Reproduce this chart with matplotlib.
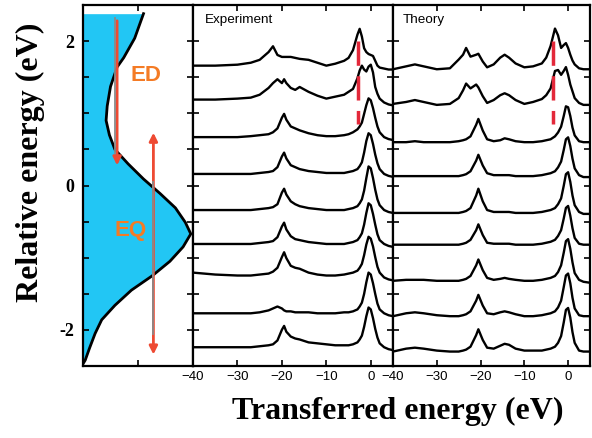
import numpy as np
import matplotlib
matplotlib.use('Agg')
import matplotlib.pyplot as plt

# left panel: density curve vs relative energy
dos_energy = [2.38, 2.04, 1.77, 1.64, 1.37, 1.10, 0.90, 0.70, 0.50, 0.30, 0.09, -0.11, -0.31,
              -0.51, -0.67, -0.85, -1.05, -1.25, -1.45, -1.66, -1.86, -2.05, -2.25, -2.42, -2.47]
dos_value = [0.55, 0.47, 0.37, 0.31, 0.25, 0.22, 0.21, 0.24, 0.29, 0.41, 0.55, 0.70, 0.84,
             0.93, 0.98, 0.91, 0.79, 0.63, 0.44, 0.29, 0.17, 0.11, 0.06, 0.02, 0.0]

# experiment spectra (intensity in arb. units, stacked at their offsets in eV)
exp_x = [-40, -35, -30, -27, -25, -23, -22, -21, -20, -19.5, -19, -18, -17, -16, -14, -12, -10,
         -8, -6, -5, -4, -3, -2.5, -2, -1.5, -1, -0.5, 0, 0.5, 1, 1.5, 2, 3, 4, 5]
exp_offsets = [1.66, 1.19, 0.67, 0.16, -0.34, -0.81, -1.22, -1.77, -2.24]
exp_spectra = [
    [0, 0, 1, 3, 6, 14, 20, 11, 9, 9, 9, 9, 8, 7, 6, 3, 0, 2, 5, 8, 16, 32, 38, 30, 18, 14, 12, 11, 10, 5, 0, -2, -3, -4, -4],
    [0, 0, 1, 2, 5, 12, 17, 21, 17, 21, 17, 12, 10, 13, 8, 4, 1, 3, 5, 8, 11, 22, 30, 35, 31, 29, 34, 36, 28, 13, 6, 1, -3, -5, -6],
    [0, 0, 0, 1, 2, 3, 5, 9, 20, 24, 18, 11, 9, 7, 4, 2, 1, 1, 2, 3, 5, 8, 11, 15, 24, 33, 40, 38, 30, 20, 11, 5, 0, -2, -3],
    [0, 0, 0, 0, 1, 2, 3, 7, 18, 22, 16, 9, 7, 5, 3, 2, 1, 1, 1, 2, 3, 5, 8, 12, 22, 34, 42, 40, 31, 20, 11, 5, 0, -2, -3],
    [0, 0, 0, 0, 1, 2, 3, 6, 18, 22, 16, 9, 6, 4, 2, 1, 0, 0, 0, 1, 2, 4, 7, 11, 20, 33, 45, 43, 33, 21, 11, 5, 0, -2, -3],
    [0, 0, 0, 0, 1, 2, 3, 7, 18, 22, 15, 8, 5, 4, 2, 1, 0, 0, 0, 1, 2, 4, 7, 11, 20, 32, 42, 40, 31, 20, 10, 4, 0, -2, -3],
    [1, -1, -2, -2, -1, 0, 2, 6, 17, 22, 16, 8, 6, 5, 1, -1, -2, -2, -1, 0, 1, 3, 6, 10, 19, 30, 38, 36, 28, 17, 7, 1, -4, -6, -7],
    [0, 0, 0, 0, 1, 3, 5, 7, 5, 3, 2, 2, 1, 1, 1, 0, 0, 0, 1, 1, 2, 4, 7, 11, 20, 32, 42, 40, 31, 20, 10, 4, 0, -2, -3],
    [0, 0, 0, 0, 1, 2, 3, 7, 18, 22, 16, 11, 9, 8, 5, 4, 3, 2, 2, 2, 3, 5, 8, 12, 21, 32, 41, 39, 30, 19, 10, 4, 0, -2, -3],
]

# theory spectra
th_x = [-40, -37, -35, -33, -30, -27, -25, -24, -23.3, -22.3, -21, -20.5, -19.5, -18.5, -17, -15.5,
        -14.5, -13.5, -12, -10, -8, -6, -5, -4, -3, -2.3, -1.6, -1, -0.5, 0, 0.5, 1, 1.5, 2.5, 3.5, 5]
th_offsets = [1.61, 1.13, 0.60, 0.13, -0.38, -0.82, -1.32, -1.81, -2.30]
th_spectra = [
    [0, 3, 5, 3, 0, 1, 10, 15, 22, 13, 15, 16, 8, 2, 5, 12, 15, 12, 6, 2, 3, 6, 12, 24, 42, 35, 22, 25, 27, 22, 15, 9, 5, 1, 0, 0],
    [0, 2, 4, 2, -1, 0, 6, 14, 21, 16, 20, 17, 8, 1, 4, 9, 11, 9, 4, 0, 2, 5, 9, 16, 34, 35, 30, 34, 38, 30, 20, 13, 6, 1, -1, -1],
    [0, 0, 1, 0, 0, 0, 1, 2, 3, 6, 18, 24, 12, 3, 1, 2, 4, 3, 1, 0, 0, 1, 2, 3, 6, 10, 16, 27, 37, 36, 27, 15, 7, 1, 0, 0],
    [0, 0, 0, 0, 0, 0, 0, 1, 2, 5, 16, 22, 11, 3, 1, 1, 1, 1, 0, 0, 0, 1, 2, 3, 5, 9, 15, 27, 38, 40, 31, 18, 8, 1, -1, -1],
    [0, 0, 0, 0, 0, 0, 0, 1, 2, 5, 18, 25, 12, 3, 1, 1, 1, 1, 0, 0, 0, 1, 2, 3, 5, 9, 15, 28, 40, 42, 32, 18, 8, 1, -1, -1],
    [0, 0, 0, 0, 0, 0, 0, 1, 2, 5, 15, 21, 10, 2, 1, 1, 1, 1, 0, 0, 0, 1, 2, 3, 5, 9, 15, 27, 38, 40, 30, 17, 7, 1, 0, 0],
    [0, 1, 1, 1, 0, 0, 0, 1, 2, 5, 16, 22, 11, 3, 1, 2, 3, 2, 1, 0, 0, 1, 2, 3, 5, 9, 16, 29, 41, 43, 33, 19, 8, 1, -1, -2],
    [0, 3, 4, 3, 1, 0, 0, 1, 2, 5, 16, 22, 11, 3, 2, 4, 5, 4, 2, 0, 0, 1, 2, 3, 5, 9, 16, 30, 42, 44, 34, 19, 8, 1, 0, 0],
    [0, 3, 4, 3, 1, 0, 0, 1, 2, 5, 17, 23, 12, 4, 3, 6, 8, 7, 3, 1, 1, 1, 2, 3, 5, 9, 16, 30, 43, 45, 35, 20, 9, 1, 0, 0],
]
intensity_scale = 1 / 74.5  # arb. units -> eV of vertical offset

plt.rcParams['font.family'] = ['Liberation Sans', 'DejaVu Sans']
serif = ['Liberation Serif', 'DejaVu Serif']

W, H = 592, 438
fig = plt.figure(figsize=(W / 100, H / 100), dpi=100)

def px_axes(x0, x1, y0, y1):
    return fig.add_axes([x0 / W, 1 - y1 / H, (x1 - x0) / W, (y1 - y0) / H])

ax0 = px_axes(83, 193, 5, 366)
ax1 = px_axes(193, 393, 5, 366)
ax2 = px_axes(393, 590, 5, 366)

ylim = (-2.47, 2.38)
yt = np.arange(-2.5, 2.51, 0.5)

for ax in (ax0, ax1, ax2):
    ax.set_ylim(*ylim)
    ax.set_yticks(yt)
    ax.tick_params(direction='in', length=4, width=1.2, top=True, right=True)
    for s in ax.spines.values():
        s.set_linewidth(1.6)

# left panel
ax0.set_xlim(0, 1)
ax0.fill_betweenx(dos_energy, 0, dos_value, color='#22c6f4', lw=0)
ax0.plot(dos_value, dos_energy, color='black', lw=2)
ax0.set_xticks([0.5])
ax0.set_xticklabels([])
ax0.set_yticklabels(['-2' if v == -2 else ('0' if v == 0 else ('2' if v == 2 else '')) for v in yt],
                    family=serif, fontsize=13, fontweight='bold')
ax0.tick_params(axis='y', pad=6)

red = '#ee4a33'
# ED arrow
ax0.annotate('', xy=(0.31, 0.24), xytext=(0.31, 2.32),
             arrowprops=dict(arrowstyle='-|>', color=red, lw=2, mutation_scale=12))
ax0.plot([0.295, 0.295], [2.32, 0.45], color='#8a8a8a', lw=1.3, zorder=5)
# EQ arrow
ax0.annotate('', xy=(0.64, -2.38), xytext=(0.64, 0.77),
             arrowprops=dict(arrowstyle='<|-|>', color=red, lw=2, mutation_scale=12))
ax0.plot([0.64, 0.64], [0.05, -2.05], color='#8a8a8a', lw=1.3, zorder=5)
ax0.text(0.57, 1.53, 'ED', color='#f47b25', fontsize=16, fontweight='bold', ha='center', va='center')
ax0.text(0.43, -0.62, 'EQ', color='#f47b25', fontsize=16, fontweight='bold', ha='center', va='center')

# spectra panels
xt = [-40, -30, -20, -10, 0]
for ax, x, offs, specs, title, dash_x, tx in ((ax1, exp_x, exp_offsets, exp_spectra, 'Experiment', -2.9, 0.06),
                                              (ax2, th_x, th_offsets, th_spectra, 'Theory', -3.4, 0.05)):
    ax.set_xlim(-40, 5)
    for off, h in zip(offs, specs):
        ax.plot(x, off + np.array(h) * intensity_scale, color='black', lw=1.7)
    ax.set_xticks(xt)
    ax.set_xticklabels([str(v) if v == 0 else '\u2212' + str(-v) for v in xt], fontsize=9.5)
    ax.set_yticklabels([])
    ax.plot([dash_x, dash_x], [2.0, 0.85], color='#e3283a', lw=2.5, dashes=(7, 3))
    ax.text(tx, 0.975, title, transform=ax.transAxes, fontsize=9.7, ha='left', va='top')

fig.text(30 / W, 1 - 162 / H, 'Relative energy (eV)', rotation=90, ha='center', va='center',
         family=serif, fontsize=23, fontweight='bold')
fig.text(398 / W, 1 - 411 / H, 'Transferred energy (eV)', ha='center', va='center',
         family=serif, fontsize=23, fontweight='bold')

fig.savefig('out.png', dpi=100)
